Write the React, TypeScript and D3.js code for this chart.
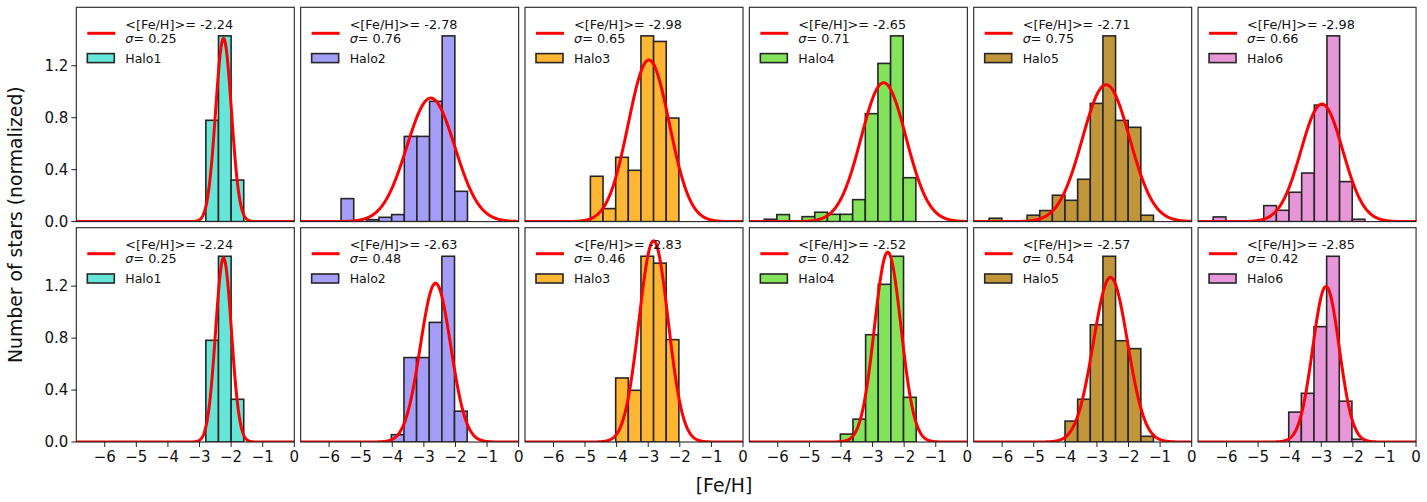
import * as d3 from "d3";

const WIDTH = 1427;
const HEIGHT = 502;

const HALOS = ["Halo1", "Halo2", "Halo3", "Halo4", "Halo5", "Halo6"];
const HALO_COLORS = ["#66e6d9", "#a59ef8", "#ffb733", "#83e35a", "#c1963a", "#e796d8"];

const X_TICKS = [-6, -5, -4, -3, -2, -1, 0];
const Y_TICKS = [0, 0.4, 0.8, 1.2];
const BIN_WIDTH = 0.4;

// top row: all stars
const TOP_BIN_START = [-2.8, -5.62, -4.83, -6.43, -6.41, -6.42];
const TOP_HEIGHTS = [
  [0.78, 1.43, 0.32],
  [0.177, 0, 0.015, 0.033, 0.054, 0.656, 0.656, 0.926, 1.43, 0.233],
  [0.349, 0.1, 0.495, 0.395, 1.43, 1.387, 0.797],
  [0.018, 0.054, 0, 0.038, 0.072, 0.056, 0.056, 0.169, 0.831, 1.218, 1.43, 0.338],
  [0.026, 0, 0, 0.049, 0.085, 0.203, 0.164, 0.326, 0.91, 1.43, 0.779, 0.726, 0.049],
  [0.036, 0, 0, 0, 0.123, 0.087, 0.226, 0.374, 0.897, 1.43, 0.308, 0.018],
];
const TOP_MEAN = [-2.24, -2.78, -2.98, -2.65, -2.71, -2.98];
const TOP_SIGMA = [0.25, 0.76, 0.65, 0.71, 0.75, 0.66];
const TOP_PEAK = [1.41, 0.951, 1.244, 1.069, 1.054, 0.905];

// bottom row
const BOTTOM_BIN_START = [-2.8, -4.03, -4.03, -4.02, -4.01, -4.03];
const BOTTOM_HEIGHTS = [
  [0.783, 1.43, 0.329],
  [0.056, 0.65, 0.65, 0.921, 1.43, 0.237],
  [0.493, 0.398, 1.43, 1.377, 0.788],
  [0.061, 0.176, 0.826, 1.214, 1.43, 0.344],
  [0.161, 0.329, 0.903, 1.43, 0.78, 0.719, 0.044],
  [0.23, 0.375, 0.888, 1.43, 0.314, 0.021],
];
const BOTTOM_MEAN = [-2.24, -2.63, -2.83, -2.52, -2.57, -2.85];
const BOTTOM_SIGMA = [0.25, 0.48, 0.46, 0.42, 0.54, 0.42];
const BOTTOM_PEAK = [1.416, 1.222, 1.549, 1.461, 1.268, 1.197];

const ROWS = [
  { start: TOP_BIN_START, heights: TOP_HEIGHTS, mean: TOP_MEAN, sigma: TOP_SIGMA, peak: TOP_PEAK },
  { start: BOTTOM_BIN_START, heights: BOTTOM_HEIGHTS, mean: BOTTOM_MEAN, sigma: BOTTOM_SIGMA, peak: BOTTOM_PEAK },
];

const PANEL_LEFT = 76.3;
const PANEL_W = 218;
const PANEL_STEP = 224.35;
const PANEL_TOP = [7.3, 227.7];
const PANEL_H = 214.3;

const FONT = "DejaVu Sans, sans-serif";
const EDGE = "#262626";

const fmtMinus = (v: number) => (v < 0 ? `\u2212${Math.abs(v)}` : `${v}`);

function Panel({ row, col }: { row: number; col: number }) {
  const r = ROWS[row];
  const x0 = PANEL_LEFT + col * PANEL_STEP;
  const y0 = PANEL_TOP[row];
  const x = d3.scaleLinear().domain([-6.9, 0]).range([0, PANEL_W]);
  const y = d3.scaleLinear().domain([0, 1.65]).range([PANEL_H, 0]);

  const bins = r.heights[col].map((h, i) => ({
    lo: r.start[col] + i * BIN_WIDTH,
    hi: r.start[col] + (i + 1) * BIN_WIDTH,
    h,
  }));

  const mu = r.mean[col];
  const sd = r.sigma[col];
  const amp = r.peak[col];
  const xs = d3.range(-6.9, 0.0001, 0.01);
  const line = d3
    .line<number>()
    .x((d) => x(d))
    .y((d) => y(amp * Math.exp(-((d - mu) ** 2) / (2 * sd * sd))));

  const clipId = `clip-${row}-${col}`;

  return (
    <g transform={`translate(${x0},${y0})`}>
      <defs>
        <clipPath id={clipId}>
          <rect x={0} y={0} width={PANEL_W} height={PANEL_H} />
        </clipPath>
      </defs>
      <g clipPath={`url(#${clipId})`}>
        {bins
          .filter((b) => b.h > 0)
          .map((b, i) => (
            <rect
              key={i}
              x={x(b.lo)}
              y={y(b.h)}
              width={x(b.hi) - x(b.lo)}
              height={y(0) - y(b.h)}
              fill={HALO_COLORS[col]}
              stroke={EDGE}
              strokeWidth={1.6}
            />
          ))}
        <path d={line(xs) ?? ""} fill="none" stroke="#ff0000" strokeWidth={3} />
      </g>
      <rect x={0} y={0} width={PANEL_W} height={PANEL_H} fill="none" stroke="#222" strokeWidth={1.1} />

      {/* legend */}
      <line x1={11} x2={39} y1={26} y2={26} stroke="#ff0000" strokeWidth={3} />
      <text x={49} y={21.5} fontFamily={FONT} fontSize={12.8} fill="#111">
        {`<[Fe/H]>= ${mu.toFixed(2)}`}
      </text>
      <text x={49} y={35.8} fontFamily={FONT} fontSize={12.8} fill="#111">
        <tspan fontStyle="italic">σ</tspan>
        {`= ${sd.toFixed(2)}`}
      </text>
      <rect x={11} y={46.3} width={27} height={9} fill={HALO_COLORS[col]} stroke={EDGE} strokeWidth={1.6} />
      <text x={49} y={55.8} fontFamily={FONT} fontSize={12.5} fill="#111">
        {HALOS[col]}
      </text>

      {/* y axis on first column */}
      {col === 0 &&
        Y_TICKS.map((t) => (
          <g key={t} transform={`translate(0,${y(t)})`}>
            <line x1={-5} x2={0} stroke="#222" strokeWidth={1} />
            <text x={-8} dy="0.35em" textAnchor="end" fontFamily={FONT} fontSize={15} fill="#111">
              {t.toFixed(1)}
            </text>
          </g>
        ))}

      {/* x axis on bottom row */}
      {row === 1 &&
        X_TICKS.map((t) => (
          <g key={t} transform={`translate(${x(t)},${PANEL_H})`}>
            <line y1={0} y2={5} stroke="#222" strokeWidth={1} />
            <text y={20} textAnchor="middle" fontFamily={FONT} fontSize={15} fill="#111">
              {fmtMinus(t)}
            </text>
          </g>
        ))}
    </g>
  );
}

export default function App() {
  return (
    <div style={{ position: "fixed", left: 0, top: 0, width: WIDTH, height: HEIGHT, background: "#fff" }}>
      <svg width={WIDTH} height={HEIGHT} style={{ display: "block" }}>
        <rect width={WIDTH} height={HEIGHT} fill="#fff" />
        {[0, 1].map((row) => HALOS.map((_, col) => <Panel key={`${row}-${col}`} row={row} col={col} />))}
        <text
          transform={`translate(22,${(PANEL_TOP[0] + PANEL_TOP[1] + PANEL_H) / 2}) rotate(-90)`}
          textAnchor="middle"
          fontFamily={FONT}
          fontSize={18.8}
          fill="#111"
        >
          Number of stars (normalized)
        </text>
        <text x={724} y={492} textAnchor="middle" fontFamily={FONT} fontSize={18.8} fill="#111">
          [Fe/H]
        </text>
      </svg>
    </div>
  );
}
